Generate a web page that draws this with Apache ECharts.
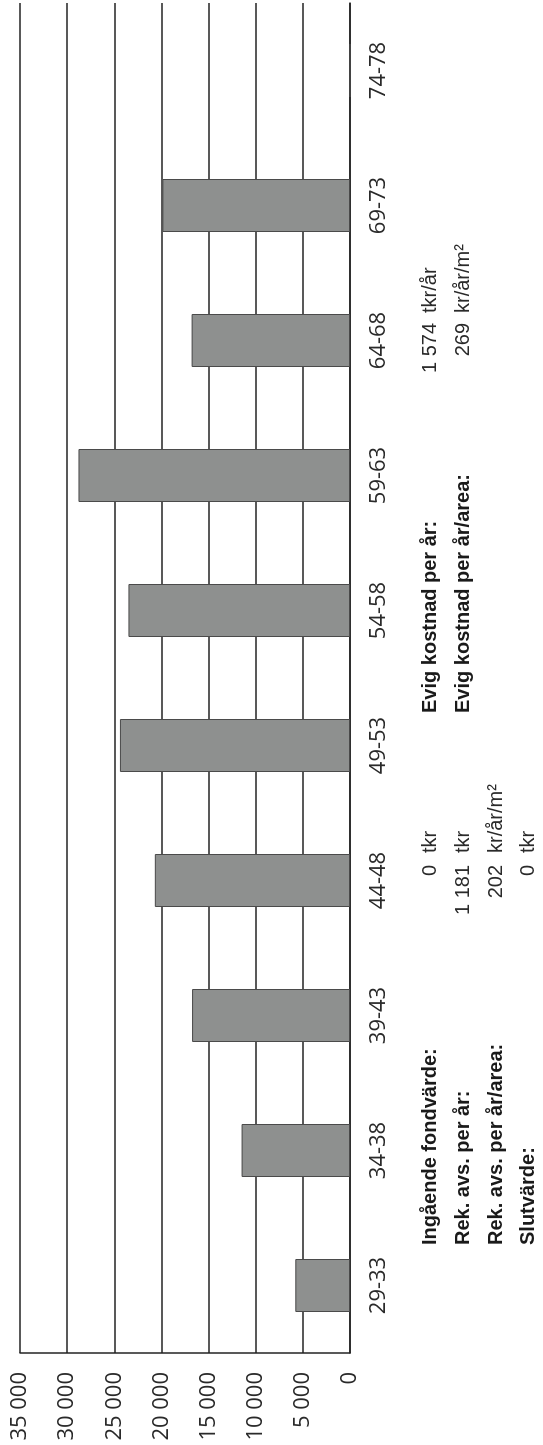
<!DOCTYPE html>
<html>
<head>
<meta charset="utf-8">
<script src="https://cdn.jsdelivr.net/npm/echarts@6/dist/echarts.min.js"></script>
<style>
  html, body { margin: 0; padding: 0; background: #fff; overflow: hidden; width: 543px; height: 1445px; }
  /* chart is drawn landscape, then turned a quarter turn so it reads bottom to top */
  #myChart {
    position: absolute; left: 0; top: 0;
    width: 1445px; height: 543px;
    transform-origin: 0 0;
    transform: translateY(1445px) rotate(-90deg);
  }
</style>
</head>
<body>
<div id="myChart"></div>
<script>
// age intervals
const categories = ['29-33', '34-38', '39-43', '44-48', '49-53', '54-58', '59-63', '64-68', '69-73', '74-78']
const costs = [5800, 11500, 16750, 20700, 24400, 23500, 28800, 16800, 19900, 0]
const yTicks = [0, 5000, 10000, 15000, 20000, 25000, 30000, 35000]

// summary text below the chart
const leftLabels = ['Ingående fondvärde:', 'Rek. avs. per år:', 'Rek. avs. per år/area:', 'Slutvärde:']
const leftValues = ['0', '1 181', '202', '0']
const leftUnits = ['tkr', 'tkr', 'kr/år/m²', 'tkr']
const rightLabels = ['Evig kostnad per år:', 'Evig kostnad per år/area:']
const rightValues = ['1 574', '269']
const rightUnits = ['tkr/år', 'kr/år/m²']

const rowY = [430, 463, 496, 528]
const graphics = []
function addRows (labels, values, units, xLabel, xValue, xUnit) {
  labels.forEach(function (txt, i) {
    graphics.push({ type: 'text', x: xLabel, y: rowY[i], style: { text: txt, font: 'bold 20px "Liberation Sans", Arial, sans-serif', fill: '#1a1a1a', textAlign: 'left', textVerticalAlign: 'middle' } })
    graphics.push({ type: 'text', x: xValue, y: rowY[i], style: { text: values[i], font: '20px "Liberation Sans", Arial, sans-serif', fill: '#2a2a2a', textAlign: 'right', textVerticalAlign: 'middle' } })
    graphics.push({ type: 'text', x: xUnit, y: rowY[i], style: { text: units[i], font: '20px "Liberation Sans", Arial, sans-serif', fill: '#2a2a2a', textAlign: 'left', textVerticalAlign: 'middle' } })
  })
}
addRows(leftLabels, leftValues, leftUnits, 200, 580, 592)
addRows(rightLabels, rightValues, rightUnits, 732, 1122, 1132)

const option = {
  animation: false,
  grid: { left: 92, right: 3, top: 20, bottom: 193 },
  xAxis: {
    type: 'category',
    data: categories,
    boundaryGap: true,
    axisLine: { show: true, lineStyle: { color: '#222', width: 1.5 } },
    axisTick: { show: false },
    axisLabel: { interval: 0, margin: 18, fontFamily: '"Open Sans", sans-serif', fontSize: 22, color: '#2a2a2a' }
  },
  yAxis: {
    type: 'value',
    min: yTicks[0],
    max: yTicks[yTicks.length - 1],
    interval: 5000,
    axisLine: { show: true, lineStyle: { color: '#222', width: 1.5 } },
    axisTick: { show: false },
    splitLine: { show: true, lineStyle: { color: '#222', width: 1.5 } },
    axisLabel: {
      margin: 19,
      fontFamily: '"Open Sans", sans-serif',
      fontSize: 22,
      color: '#2a2a2a',
      formatter: function (v) { return String(v).replace(/\B(?=(\d{3})+(?!\d))/g, ' ') }
    }
  },
  series: [{
    type: 'bar',
    data: costs,
    barWidth: 53,
    itemStyle: { color: '#8e908f', borderColor: '#4a4a4a', borderWidth: 1 }
  }],
  graphic: graphics
}

let myChart = echarts.init(document.getElementById('myChart'))
myChart.setOption(option)
</script>
</body>
</html>
